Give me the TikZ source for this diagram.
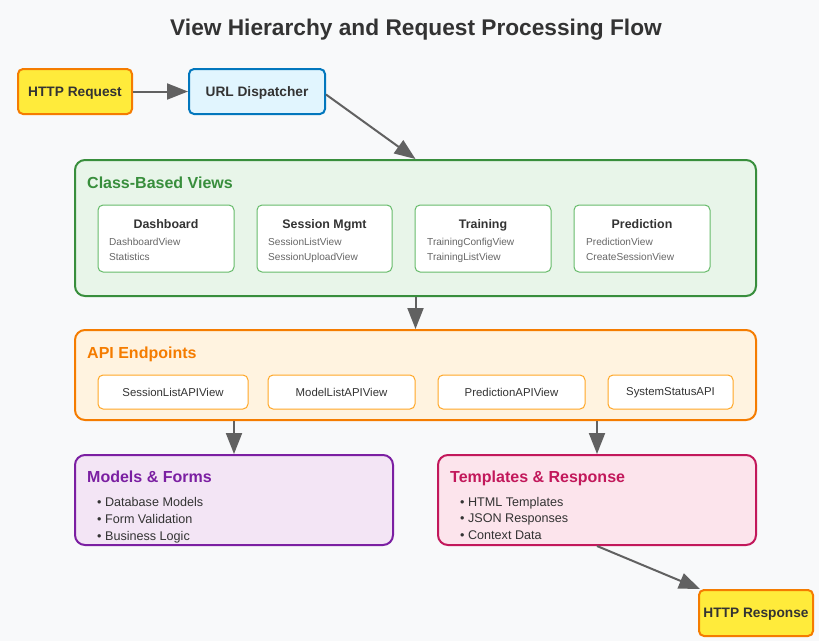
\documentclass[tikz,border=0pt]{standalone}
\usepackage{fontspec}
\setmainfont{Liberation Sans}
\usetikzlibrary{arrows.meta}

\definecolor{bgcol}{HTML}{F8F9FA}
\definecolor{txtcol}{HTML}{333333}
\definecolor{subcol}{HTML}{666666}
\definecolor{arrowcol}{HTML}{616161}
\definecolor{httpfill}{HTML}{FFEB3B}
\definecolor{httpline}{HTML}{F57C00}
\definecolor{urlfill}{HTML}{E1F5FE}
\definecolor{urlline}{HTML}{0277BD}
\definecolor{viewfill}{HTML}{E8F5E9}
\definecolor{viewline}{HTML}{388E3C}
\definecolor{viewcard}{HTML}{66BB6A}
\definecolor{apifill}{HTML}{FFF3E0}
\definecolor{apiline}{HTML}{F57C00}
\definecolor{apicard}{HTML}{FFA726}
\definecolor{modelfill}{HTML}{F3E5F5}
\definecolor{modelline}{HTML}{7B1FA2}
\definecolor{tplfill}{HTML}{FCE4EC}
\definecolor{tplline}{HTML}{C2185B}

\tikzset{
  flowbox/.style={draw, line width=2pt, rounded corners=5pt, inner sep=0pt, text depth=0pt,
    minimum height=45pt, text=txtcol, font=\fontsize{13.7}{16}\selectfont\bfseries},
  group/.style={draw, line width=2pt, rounded corners=10pt, inner sep=0pt},
  grouptitle/.style={anchor=west, inner sep=0pt, text depth=0pt, font=\fontsize{16}{19}\selectfont\bfseries},
  card/.style={draw, line width=1pt, fill=white, rounded corners=5pt, inner sep=0pt},
  cardtitle/.style={inner sep=0pt, text depth=0pt, text=txtcol, font=\fontsize{12.4}{15}\selectfont\bfseries},
  carditem/.style={anchor=west, inner sep=0pt, text depth=0pt, text=subcol, font=\fontsize{10.1}{12}\selectfont},
  apitext/.style={inner sep=0pt, text depth=0pt, text=txtcol, font=\fontsize{11.4}{13}\selectfont},
  bullet/.style={anchor=west, inner sep=0pt, text depth=0pt, text=txtcol, font=\fontsize{12.6}{15}\selectfont},
  flow/.style={draw=arrowcol, line width=2pt, -{Triangle[length=21pt,width=16pt]}}
}

\begin{document}
\begin{tikzpicture}[x=1pt,y=-1pt]
% Background
\fill[bgcol] (0,0) rectangle (819,641);
\useasboundingbox (0,0) rectangle (819,641);
% Title
\node[text=txtcol, text depth=0pt, font=\fontsize{22.7}{27}\selectfont\bfseries] (title) at (416,27) {View Hierarchy and Request Processing Flow};
% Request entry
\node[flowbox, fill=httpfill, draw=httpline, minimum width=114pt] (req) at (75,91.5) {HTTP Request};
\node[flowbox, fill=urlfill, draw=urlline, minimum width=136pt] (url) at (257,91.5) {URL Dispatcher};
% Class-based views
\node[group, fill=viewfill, draw=viewline, minimum width=681pt, minimum height=136pt] (views) at (415.5,228) {};
\node[grouptitle, text=viewline] (viewstitle) at (87,183) {Class-Based Views};
\node[card, draw=viewcard, minimum width=136pt, minimum height=67pt] (dash) at (166,238.5) {};
\node[cardtitle] (dashtitle) at (166,224) {Dashboard};
\node[carditem] (dasha) at (109,241.5) {DashboardView};
\node[carditem] (dashb) at (109,256.5) {Statistics};
\node[card, draw=viewcard, minimum width=135pt, minimum height=67pt] (sess) at (324.5,238.5) {};
\node[cardtitle] (sesstitle) at (324.5,224) {Session Mgmt};
\node[carditem] (sessa) at (268,241.5) {SessionListView};
\node[carditem] (sessb) at (268,256.5) {SessionUploadView};
\node[card, draw=viewcard, minimum width=136pt, minimum height=67pt] (train) at (483,238.5) {};
\node[cardtitle] (traintitle) at (483,224) {Training};
\node[carditem] (traina) at (427,241.5) {TrainingConfigView};
\node[carditem] (trainb) at (427,256.5) {TrainingListView};
\node[card, draw=viewcard, minimum width=136pt, minimum height=67pt] (pred) at (642,238.5) {};
\node[cardtitle] (predtitle) at (642,224) {Prediction};
\node[carditem] (preda) at (586,241.5) {PredictionView};
\node[carditem] (predb) at (586,256.5) {CreateSessionView};
% API endpoints
\node[group, fill=apifill, draw=apiline, minimum width=681pt, minimum height=90pt] (api) at (415.5,375) {};
\node[grouptitle, text=apiline] (apititle) at (87,353) {API Endpoints};
\node[card, draw=apicard, minimum width=150pt, minimum height=34pt] (sessapi) at (173,392) {};
\node[apitext] at (sessapi) {SessionListAPIView};
\node[card, draw=apicard, minimum width=147pt, minimum height=34pt] (modelapi) at (341.5,392) {};
\node[apitext] at (modelapi) {ModelListAPIView};
\node[card, draw=apicard, minimum width=147pt, minimum height=34pt] (predapi) at (511.5,392) {};
\node[apitext] at (predapi) {PredictionAPIView};
\node[card, draw=apicard, minimum width=125pt, minimum height=34pt] (statusapi) at (670.5,392) {};
\node[apitext] at (statusapi) {SystemStatusAPI};
% Models and templates
\node[group, fill=modelfill, draw=modelline, minimum width=318pt, minimum height=90pt] (models) at (234,500) {};
\node[grouptitle, text=modelline] (modelstitle) at (87,477) {Models \& Forms};
\node[bullet] at (97,501.5) {• Database Models};
\node[bullet] at (97,518.5) {• Form Validation};
\node[bullet] at (97,535.5) {• Business Logic};
\node[group, fill=tplfill, draw=tplline, minimum width=318pt, minimum height=90pt] (tpl) at (597,500) {};
\node[grouptitle, text=tplline] (tpltitle) at (450,477) {Templates \& Response};
\node[bullet] at (460,501.5) {• HTML Templates};
\node[bullet] at (460,518.5) {• JSON Responses};
\node[bullet] at (460,535.5) {• Context Data};
% Response
\node[flowbox, fill=httpfill, draw=httpline, minimum width=114pt, minimum height=46pt] (resp) at (756,613) {HTTP Response};
% Flow arrows
\draw[flow] (req.east) -- (url.west);
\draw[flow] ([yshift=-3pt]url.east) -- (views.north);
\draw[flow] (views.south) -- (api.north);
\draw[flow] (models.north |- api.south) -- (models.north);
\draw[flow] (tpl.north |- api.south) -- (tpl.north);
\draw[flow] (tpl.south) -- ([xshift=2pt]resp.north west);
\end{tikzpicture}
\end{document}
